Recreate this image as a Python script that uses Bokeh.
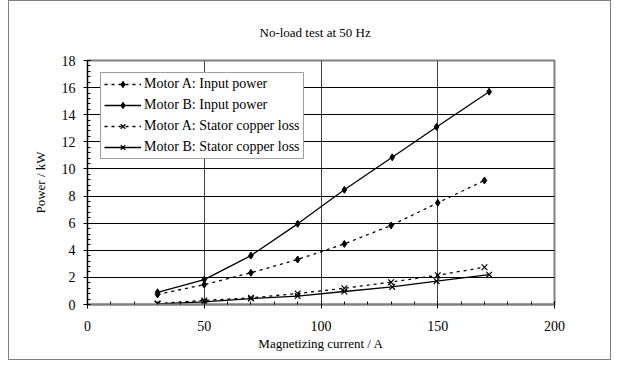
from bokeh.plotting import figure
from bokeh.models import (Range1d, SingleIntervalTicker, Legend, LegendItem, Title)
from bokeh.embed import file_html
from bokeh.resources import INLINE

# ---- data ----
a_current = [30, 50, 70, 90, 110, 130, 150, 170]
a_input = [0.74, 1.47, 2.34, 3.32, 4.47, 5.83, 7.5, 9.15]
a_copper = [0.07, 0.30, 0.49, 0.81, 1.20, 1.65, 2.16, 2.75]

b_current = [30, 50, 70, 90, 110, 130.5, 149.5, 172]
b_input = [0.90, 1.84, 3.61, 5.95, 8.46, 10.86, 13.1, 15.7]
b_copper = [0.05, 0.20, 0.44, 0.62, 0.96, 1.30, 1.72, 2.20]

labels = ["Motor A: Input power", "Motor B: Input power",
          "Motor A: Stator copper loss", "Motor B: Stator copper loss"]

FONT = "Liberation Serif"

p = figure(width=603, height=360, output_backend="svg", toolbar_location=None,
           x_range=Range1d(0, 200), y_range=Range1d(0, 18),
           min_border_left=78, min_border_right=58, min_border_top=59,
           min_border_bottom=57)
p.styles = {"border": "1px solid #808080", "box-sizing": "border-box",
            "margin-left": "8px"}

p.title = Title(text="No-load test at 50 Hz", text_font=FONT, text_font_size="13px",
                text_font_style="normal", align="left", offset=172, standoff=41,
                text_color="black")

p.outline_line_color = "#808080"
p.outline_line_width = 2

# axes
p.xaxis.ticker = SingleIntervalTicker(interval=50, num_minor_ticks=5)
p.yaxis.ticker = SingleIntervalTicker(interval=2, num_minor_ticks=5)
for ax in (p.xaxis[0], p.yaxis[0]):
    ax.major_label_text_font = FONT
    ax.major_label_text_font_size = "14px"
    ax.major_label_text_color = "black"
    ax.axis_label_text_font = FONT
    ax.axis_label_text_font_size = "13px"
    ax.axis_label_text_font_style = "normal"
    ax.axis_label_text_color = "black"
    ax.axis_line_color = "black"
    ax.major_tick_line_color = "black"
    ax.minor_tick_line_color = "black"
    ax.major_tick_in = 3
    ax.major_tick_out = 4
    ax.minor_tick_in = 3
    ax.minor_tick_out = 0
p.xaxis.axis_label = "Magnetizing current / A"
p.yaxis.axis_label = "Power / kW"
p.xaxis.axis_line_color = "#808080"
p.xaxis.axis_line_width = 2
p.xaxis.major_label_standoff = 12
p.xaxis.axis_label_standoff = 2
p.yaxis.major_label_standoff = 8
p.yaxis.axis_label_standoff = 11

p.xgrid.ticker = SingleIntervalTicker(interval=50)
p.ygrid.ticker = SingleIntervalTicker(interval=2)
p.xgrid.grid_line_color = "#404040"
p.ygrid.grid_line_color = "black"
p.xgrid.grid_line_width = 1
p.ygrid.grid_line_width = 1

dash = "3 4"
r1l = p.line(a_current, a_input, line_color="black", line_width=1.3, line_dash=dash)
r1m = p.scatter(a_current, a_input, marker="diamond", size=7, color="black")
r2l = p.line(b_current, b_input, line_color="black", line_width=1.3)
r2m = p.scatter(b_current, b_input, marker="diamond", size=7, color="black")
r3l = p.line(a_current, a_copper, line_color="black", line_width=1.3, line_dash=dash)
r3m = p.scatter(a_current, a_copper, marker="x", size=8, line_color="black", line_width=1.2)
r4l = p.line(b_current, b_copper, line_color="black", line_width=1.3)
r4m = p.scatter(b_current, b_copper, marker="x", size=8, line_color="black", line_width=1.2)

legend = Legend(items=[LegendItem(label=labels[0], renderers=[r1l, r1m]),
                       LegendItem(label=labels[1], renderers=[r2l, r2m]),
                       LegendItem(label=labels[2], renderers=[r3l, r3m]),
                       LegendItem(label=labels[3], renderers=[r4l, r4m])],
                location=(13, 145))
legend.label_text_font = FONT
legend.label_text_font_size = "14px"
legend.label_text_color = "black"
legend.border_line_color = "#404040"
legend.border_line_width = 1
legend.background_fill_color = "white"
legend.background_fill_alpha = 1
legend.padding = 3
legend.spacing = 5
legend.label_height = 16
legend.glyph_height = 16
legend.glyph_width = 37
legend.label_standoff = 3
legend.margin = 0
p.add_layout(legend)

open("out.html", "w").write(file_html(p, INLINE))
